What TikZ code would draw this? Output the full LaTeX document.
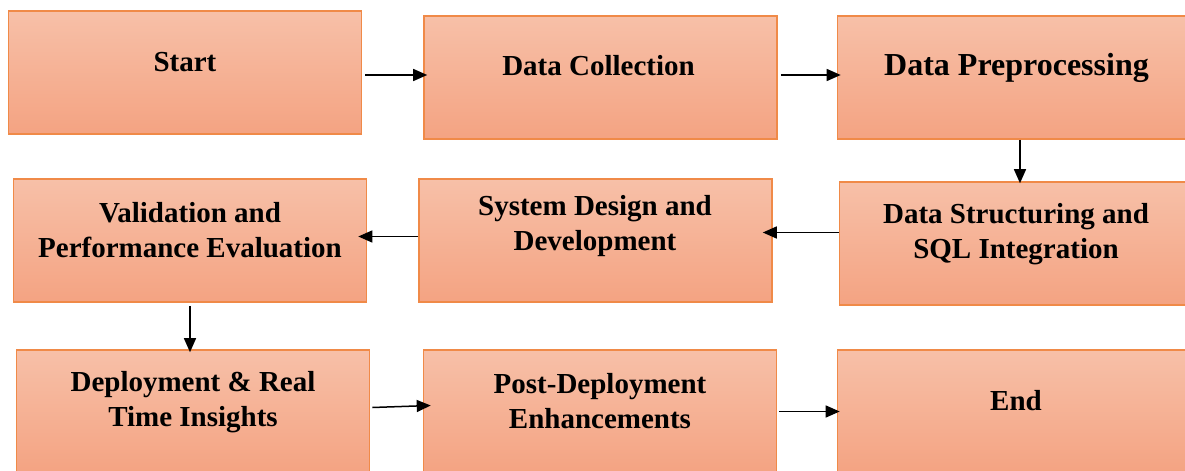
\documentclass[tikz,border=0pt]{standalone}
\usepackage{fontspec}
\setmainfont{Liberation Serif}
\usepackage{xcolor}
\usetikzlibrary{arrows.meta, calc}
\definecolor{boxtop}{RGB}{247, 192, 168}
\definecolor{boxbottom}{RGB}{244, 163, 130}
\definecolor{boxline}{RGB}{240, 138, 72}

\begin{document}
\begin{tikzpicture}[x=0.5pt, y=-0.5pt,
        stage/.style={rectangle, draw=boxline, line width=0.8pt, top color=boxtop, bottom color=boxbottom, minimum width=176.5pt, minimum height=61.5pt, inner sep=0pt},
        caption/.style={font=\fontsize{14.5}{17.5}\selectfont\bfseries, align=center, inner sep=0pt},
        flow/.style={-{Triangle[length=7pt, width=6pt]}, line width=0.75pt, color=black}
    ]
        \useasboundingbox (0,0) rectangle (1185,471);
        \clip (0,0) rectangle (1185,471);

        % Row one
        \node[stage] (start) at (185, 72.5) {};
        \node[stage] (collect) at (600.5, 77.5) {};
        \node[stage] (prep) at (1014, 77.5) {};
        \node[caption] (startT) at (185, 62) {Start};
        \node[caption] (collectT) at (598.5, 66) {Data Collection};
        \node[caption, font=\fontsize{16}{19}\selectfont\bfseries] (prepT) at (1016.5, 68) {Data Preprocessing};

        % Row two
        \node[stage] (valid) at (190, 240.5) {};
        \node[stage] (design) at (595.5, 240.5) {};
        \node[stage] (struct) at (1016, 243.5) {};
        \node[caption] (validT) at (190, 230) {Validation and\\Performance Evaluation};
        \node[caption] (designT) at (595, 226) {System Design and\\Development};
        \node[caption] (structT) at (1016, 234.5) {Data Structuring and\\SQL Integration};

        % Row three
        \node[stage] (deploy) at (193, 411.5) {};
        \node[stage] (post) at (600, 411.5) {};
        \node[stage] (finish) at (1014, 411.5) {};
        \node[caption] (deployT) at (193, 402.5) {Deployment \& Real\\Time Insights};
        \node[caption] (postT) at (600, 401) {Post-Deployment\\Enhancements};
        \node[caption] (finishT) at (1016, 401) {End};

        % Arrows
        \draw[flow] ([xshift=1.5pt, yshift=-1.25pt]start.east) -- ([xshift=2pt, yshift=-1.25pt]start.east -| collect.west);
        \draw[flow] ([xshift=1.5pt, yshift=1.25pt]collect.east) -- ([xshift=2pt, yshift=1.25pt]collect.east -| prep.west);
        \draw[flow] ([xshift=3pt]prep.south) -- ([xshift=3pt, yshift=-1pt]prep.south |- struct.north);
        \draw[flow] ([yshift=5.5pt]struct.west) -- ([xshift=-5pt, yshift=5.5pt]struct.west -| design.east);
        \draw[flow] ([yshift=2pt]design.west) -- ([xshift=-4.5pt, yshift=2pt]design.west -| valid.east);
        \draw[flow] ([yshift=-1.5pt]valid.south) -- ([yshift=-1.5pt]valid.south |- deploy.north);
        \draw[flow] ([xshift=1pt, yshift=2pt]deploy.east) -- ([xshift=4pt, yshift=3pt]deploy.east -| post.west);
        \draw[flow] ([xshift=1pt]post.east) -- ([xshift=1.5pt]post.east -| finish.west);
    \end{tikzpicture}
\end{document}
